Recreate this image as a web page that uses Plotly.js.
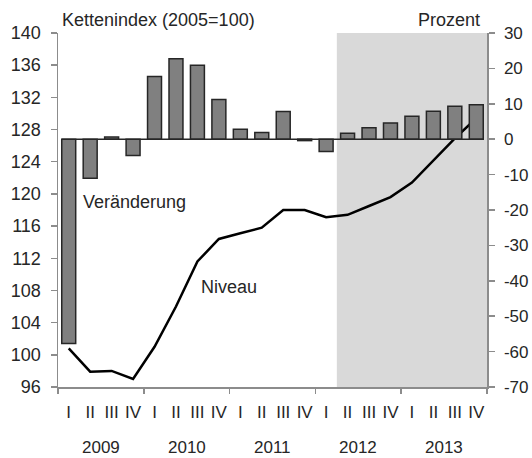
<!DOCTYPE html>
<html>
<head>
<meta charset="utf-8">
<script src="https://cdn.plot.ly/plotly-3.0.1.min.js"></script>
<style>html,body{margin:0;padding:0;background:#fff;}#chart{width:532px;height:458px;}</style>
</head>
<body>
<div id="chart"></div>
<script>
// Data
var quarterLabels = ["I","II","III","IV","I","II","III","IV","I","II","III","IV","I","II","III","IV","I","II","III","IV"];
var years = ["2009","2010","2011","2012","2013"];
var veraenderung = [-57.7,-11.0,0.6,-4.6,17.7,22.7,20.9,11.2,2.8,1.9,7.8,-0.4,-3.5,1.7,3.2,4.6,6.5,7.9,9.3,9.7];
var niveau = [100.8,97.9,98.0,97.0,101.0,106.0,111.6,114.4,115.1,115.8,118.0,118.0,117.1,117.4,118.5,119.6,121.4,124.2,126.9,129.4];
var leftTicks = [96,100,104,108,112,116,120,124,128,132,136,140];
var rightTicks = [-70,-60,-50,-40,-30,-20,-10,0,10,20,30];
var rightTickText = ["-70","-60","-50","-40","-30","-20","-10","0","10","20","30"];
var forecastStart = 13; // 2012 II

var idx = quarterLabels.map(function(_, i){ return i; });
var barWidth = 0.65;
var font = "Liberation Sans, Arial, sans-serif";
var txt = "#262626";
var axisCol = "#8c8c8c";

var yearBounds = [];
for (var k = 0; k <= years.length; k++) yearBounds.push(k * 4 - 0.5);
var yearCenters = years.map(function(_, k){ return k * 4 + 1.5; });

var traces = [
  {type: "bar", x: idx, y: veraenderung, yaxis: "y2", xaxis: "x",
   width: barWidth, marker: {color: "#808080", line: {color: "#262626", width: 1.5}},
   hoverinfo: "skip"},
  {type: "scatter", mode: "lines", x: idx, y: niveau, xaxis: "x", yaxis: "y",
   line: {color: "#000", width: 2.5}, hoverinfo: "skip"},
  {type: "scatter", mode: "lines", x: [yearBounds[0], yearBounds[yearBounds.length-1]], y: [null, null],
   xaxis: "x2", yaxis: "y", showlegend: false, hoverinfo: "skip"}
];

var annotations = years.map(function(y, k){
  return {text: y, x: yearCenters[k], xref: "x", y: -0.172, yref: "paper",
          showarrow: false, xanchor: "center", yanchor: "middle",
          font: {family: font, size: 17, color: txt}};
});
annotations.push(
  {text: "Kettenindex (2005=100)", x: 0.004, xref: "paper", y: 1.038, yref: "paper", showarrow: false,
   xanchor: "left", yanchor: "middle", font: {family: font, size: 18, color: txt}},
  {text: "Prozent", x: 0.988, xref: "paper", y: 1.036, yref: "paper", showarrow: false,
   xanchor: "right", yanchor: "middle", font: {family: font, size: 18, color: txt}},
  {text: "Veränderung", x: 0.053, xref: "paper", y: 0.523, yref: "paper", showarrow: false,
   xanchor: "left", yanchor: "middle", font: {family: font, size: 18, color: txt}},
  {text: "Niveau", x: 0.329, xref: "paper", y: 0.283, yref: "paper", showarrow: false,
   xanchor: "left", yanchor: "middle", font: {family: font, size: 18, color: txt}}
);

var shapes = [
  {type: "rect", xref: "x", yref: "paper", x0: forecastStart - 0.5, x1: idx.length - 0.5, y0: 0, y1: 1,
   fillcolor: "#d9d9d9", line: {width: 0}, layer: "below"},
  {type: "line", xref: "x", yref: "y2", x0: -barWidth/2, x1: idx.length - 1 + barWidth/2, y0: 0, y1: 0,
   line: {color: "#262626", width: 1.5}, layer: "above"}
];

var layout = {
  width: 532, height: 458,
  margin: {l: 58, r: 45, t: 33, b: 71},
  paper_bgcolor: "#fff", plot_bgcolor: "rgba(0,0,0,0)",
  showlegend: false,
  bargap: 0,
  font: {family: font, size: 17, color: txt},
  xaxis: {range: [-0.5, idx.length - 0.5], tickmode: "array", tickvals: idx, ticktext: quarterLabels,
          ticks: "outside", ticklen: 9, tickcolor: "rgba(0,0,0,0)", showgrid: false, zeroline: false,
          showline: true, linecolor: axisCol, linewidth: 1.5, fixedrange: true,
          tickfont: {family: font, size: 17, color: txt}},
  xaxis2: {overlaying: "x", side: "bottom", range: [-0.5, idx.length - 0.5], tickmode: "array",
           tickvals: yearBounds, showticklabels: false, ticks: "outside", ticklen: 6, tickwidth: 1.5,
           tickcolor: axisCol, showgrid: false, zeroline: false, showline: false, anchor: "y"},
  yaxis: {range: [96, 140], tickmode: "array", tickvals: leftTicks, ticks: "outside", ticklen: 6, tickwidth: 1.5, tickcolor: axisCol,
          showline: true, linecolor: axisCol, linewidth: 1.5, showgrid: false, zeroline: false,
          ticklabelstandoff: 6, tickfont: {family: font, size: 18, color: txt}},
  yaxis2: {range: [-70, 30], tickmode: "array", tickvals: rightTicks, ticktext: rightTickText,
           overlaying: "y", side: "right", ticks: "outside", ticklen: 6,
           tickwidth: 1.5, tickcolor: axisCol, showline: true, linecolor: axisCol, linewidth: 1.5,
           showgrid: false, zeroline: false, ticklabelstandoff: 6,
           tickfont: {family: font, size: 17, color: txt}},
  shapes: shapes,
  annotations: annotations
};

Plotly.newPlot("chart", traces, layout, {displayModeBar: false, staticPlot: true});
</script>
</body>
</html>
